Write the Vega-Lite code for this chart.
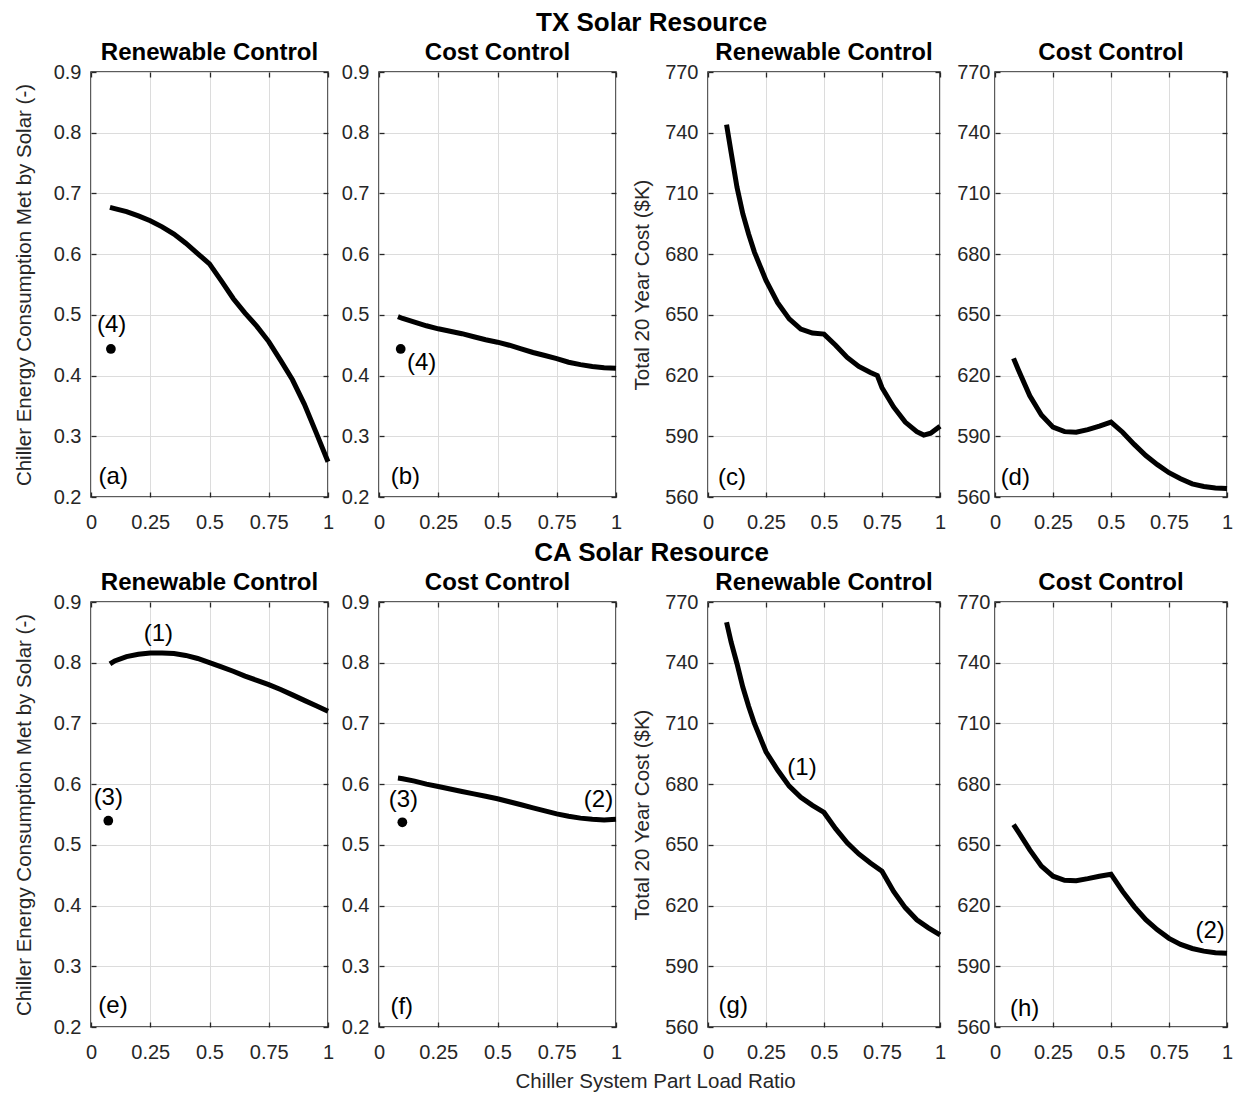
{
  "$schema": "https://vega.github.io/schema/vega-lite/v6.json",
  "background": "white",
  "padding": {"left": 13, "top": 10, "right": 4, "bottom": 0},
  "title": {"text": "Chiller System Part Load Ratio", "orient": "bottom", "anchor": "middle", "frame": "bounds", "fontSize": 20.5, "fontWeight": "normal", "color": "#262626", "offset": 9, "dx": 30},
  "spacing": 7,
  "datasets": {
    "curves": [
      {"panel":"a","plr":0.08,"val":0.677},{"panel":"a","plr":0.1,"val":0.675},{"panel":"a","plr":0.15,"val":0.670},{"panel":"a","plr":0.2,"val":0.663},{"panel":"a","plr":0.25,"val":0.655},{"panel":"a","plr":0.3,"val":0.645},{"panel":"a","plr":0.35,"val":0.633},{"panel":"a","plr":0.4,"val":0.618},{"panel":"a","plr":0.45,"val":0.601},{"panel":"a","plr":0.5,"val":0.584},{"panel":"a","plr":0.55,"val":0.556},{"panel":"a","plr":0.6,"val":0.527},{"panel":"a","plr":0.65,"val":0.503},{"panel":"a","plr":0.7,"val":0.481},{"panel":"a","plr":0.75,"val":0.456},{"panel":"a","plr":0.8,"val":0.425},{"panel":"a","plr":0.85,"val":0.393},{"panel":"a","plr":0.9,"val":0.353},{"panel":"a","plr":0.95,"val":0.306},{"panel":"a","plr":1.0,"val":0.258},
      {"panel":"b","plr":0.08,"val":0.497},{"panel":"b","plr":0.1,"val":0.494},{"panel":"b","plr":0.15,"val":0.488},{"panel":"b","plr":0.2,"val":0.482},{"panel":"b","plr":0.25,"val":0.477},{"panel":"b","plr":0.3,"val":0.473},{"panel":"b","plr":0.35,"val":0.469},{"panel":"b","plr":0.4,"val":0.464},{"panel":"b","plr":0.45,"val":0.459},{"panel":"b","plr":0.5,"val":0.455},{"panel":"b","plr":0.55,"val":0.450},{"panel":"b","plr":0.6,"val":0.444},{"panel":"b","plr":0.65,"val":0.438},{"panel":"b","plr":0.7,"val":0.433},{"panel":"b","plr":0.75,"val":0.428},{"panel":"b","plr":0.8,"val":0.422},{"panel":"b","plr":0.85,"val":0.418},{"panel":"b","plr":0.9,"val":0.415},{"panel":"b","plr":0.95,"val":0.413},{"panel":"b","plr":1.0,"val":0.412},
      {"panel":"c","plr":0.08,"val":744},{"panel":"c","plr":0.1,"val":730},{"panel":"c","plr":0.125,"val":713},{"panel":"c","plr":0.15,"val":700},{"panel":"c","plr":0.175,"val":690},{"panel":"c","plr":0.2,"val":681},{"panel":"c","plr":0.25,"val":667},{"panel":"c","plr":0.3,"val":656},{"panel":"c","plr":0.35,"val":648},{"panel":"c","plr":0.4,"val":643},{"panel":"c","plr":0.45,"val":641},{"panel":"c","plr":0.5,"val":640.5},{"panel":"c","plr":0.55,"val":635},{"panel":"c","plr":0.6,"val":629},{"panel":"c","plr":0.65,"val":624.5},{"panel":"c","plr":0.7,"val":621.5},{"panel":"c","plr":0.73,"val":620},{"panel":"c","plr":0.75,"val":614},{"panel":"c","plr":0.8,"val":604.5},{"panel":"c","plr":0.85,"val":597},{"panel":"c","plr":0.9,"val":592.3},{"panel":"c","plr":0.93,"val":590.6},{"panel":"c","plr":0.96,"val":591.5},{"panel":"c","plr":1.0,"val":595},
      {"panel":"d","plr":0.08,"val":628.5},{"panel":"d","plr":0.1,"val":623},{"panel":"d","plr":0.15,"val":610},{"panel":"d","plr":0.2,"val":600.5},{"panel":"d","plr":0.25,"val":594.5},{"panel":"d","plr":0.3,"val":592.3},{"panel":"d","plr":0.35,"val":592},{"panel":"d","plr":0.4,"val":593.3},{"panel":"d","plr":0.45,"val":595},{"panel":"d","plr":0.5,"val":597},{"panel":"d","plr":0.55,"val":592},{"panel":"d","plr":0.6,"val":586},{"panel":"d","plr":0.65,"val":580.5},{"panel":"d","plr":0.7,"val":576},{"panel":"d","plr":0.75,"val":572},{"panel":"d","plr":0.8,"val":569},{"panel":"d","plr":0.85,"val":566.5},{"panel":"d","plr":0.9,"val":565.2},{"panel":"d","plr":0.95,"val":564.5},{"panel":"d","plr":1.0,"val":564.2},
      {"panel":"e","plr":0.08,"val":0.798},{"panel":"e","plr":0.1,"val":0.803},{"panel":"e","plr":0.15,"val":0.810},{"panel":"e","plr":0.2,"val":0.814},{"panel":"e","plr":0.25,"val":0.816},{"panel":"e","plr":0.3,"val":0.816},{"panel":"e","plr":0.35,"val":0.815},{"panel":"e","plr":0.4,"val":0.812},{"panel":"e","plr":0.45,"val":0.807},{"panel":"e","plr":0.5,"val":0.800},{"panel":"e","plr":0.55,"val":0.793},{"panel":"e","plr":0.6,"val":0.786},{"panel":"e","plr":0.65,"val":0.778},{"panel":"e","plr":0.7,"val":0.771},{"panel":"e","plr":0.75,"val":0.764},{"panel":"e","plr":0.8,"val":0.756},{"panel":"e","plr":0.85,"val":0.747},{"panel":"e","plr":0.9,"val":0.738},{"panel":"e","plr":0.95,"val":0.729},{"panel":"e","plr":1.0,"val":0.720},
      {"panel":"f","plr":0.08,"val":0.610},{"panel":"f","plr":0.1,"val":0.609},{"panel":"f","plr":0.15,"val":0.605},{"panel":"f","plr":0.2,"val":0.600},{"panel":"f","plr":0.25,"val":0.596},{"panel":"f","plr":0.3,"val":0.592},{"panel":"f","plr":0.35,"val":0.588},{"panel":"f","plr":0.4,"val":0.584},{"panel":"f","plr":0.45,"val":0.580},{"panel":"f","plr":0.5,"val":0.576},{"panel":"f","plr":0.55,"val":0.571},{"panel":"f","plr":0.6,"val":0.566},{"panel":"f","plr":0.65,"val":0.561},{"panel":"f","plr":0.7,"val":0.556},{"panel":"f","plr":0.75,"val":0.551},{"panel":"f","plr":0.8,"val":0.547},{"panel":"f","plr":0.85,"val":0.544},{"panel":"f","plr":0.9,"val":0.542},{"panel":"f","plr":0.95,"val":0.541},{"panel":"f","plr":1.0,"val":0.542},
      {"panel":"g","plr":0.08,"val":760},{"panel":"g","plr":0.1,"val":750},{"panel":"g","plr":0.125,"val":739.5},{"panel":"g","plr":0.15,"val":728},{"panel":"g","plr":0.175,"val":718.5},{"panel":"g","plr":0.2,"val":710},{"panel":"g","plr":0.25,"val":696},{"panel":"g","plr":0.3,"val":687},{"panel":"g","plr":0.35,"val":679},{"panel":"g","plr":0.4,"val":673.5},{"panel":"g","plr":0.45,"val":669.5},{"panel":"g","plr":0.5,"val":666},{"panel":"g","plr":0.55,"val":658},{"panel":"g","plr":0.6,"val":651},{"panel":"g","plr":0.65,"val":645.5},{"panel":"g","plr":0.7,"val":641},{"panel":"g","plr":0.75,"val":637},{"panel":"g","plr":0.8,"val":627},{"panel":"g","plr":0.85,"val":619},{"panel":"g","plr":0.9,"val":613},{"panel":"g","plr":0.95,"val":609},{"panel":"g","plr":1.0,"val":605.5},
      {"panel":"h","plr":0.08,"val":660},{"panel":"h","plr":0.1,"val":656.5},{"panel":"h","plr":0.15,"val":647.5},{"panel":"h","plr":0.2,"val":639.5},{"panel":"h","plr":0.25,"val":634.5},{"panel":"h","plr":0.3,"val":632.5},{"panel":"h","plr":0.35,"val":632.3},{"panel":"h","plr":0.4,"val":633.3},{"panel":"h","plr":0.45,"val":634.5},{"panel":"h","plr":0.5,"val":635.5},{"panel":"h","plr":0.55,"val":627},{"panel":"h","plr":0.6,"val":619.5},{"panel":"h","plr":0.65,"val":613},{"panel":"h","plr":0.7,"val":608},{"panel":"h","plr":0.75,"val":603.8},{"panel":"h","plr":0.8,"val":600.8},{"panel":"h","plr":0.85,"val":598.8},{"panel":"h","plr":0.9,"val":597.5},{"panel":"h","plr":0.95,"val":596.7},{"panel":"h","plr":1.0,"val":596.4}
    ],
    "notes": [
      {"panel":"a","plr":0.094,"val":0.2334,"label":"(a)"},
      {"panel":"a","plr":0.087,"val":0.4833,"label":"(4)"},
      {"panel":"b","plr":0.111,"val":0.2334,"label":"(b)"},
      {"panel":"b","plr":0.18,"val":0.4215,"label":"(4)"},
      {"panel":"c","plr":0.1034,"val":569.2,"label":"(c)"},
      {"panel":"d","plr":0.0875,"val":569.2,"label":"(d)"},
      {"panel":"e","plr":0.093,"val":0.2346,"label":"(e)"},
      {"panel":"e","plr":0.284,"val":0.8473,"label":"(1)"},
      {"panel":"e","plr":0.073,"val":0.5769,"label":"(3)"},
      {"panel":"f","plr":0.096,"val":0.2325,"label":"(f)"},
      {"panel":"f","plr":0.1027,"val":0.5742,"label":"(3)"},
      {"panel":"f","plr":0.926,"val":0.5742,"label":"(2)"},
      {"panel":"g","plr":0.109,"val":570.2,"label":"(g)"},
      {"panel":"g","plr":0.405,"val":687.9,"label":"(1)"},
      {"panel":"h","plr":0.128,"val":568.9,"label":"(h)"},
      {"panel":"h","plr":0.927,"val":607.2,"label":"(2)"}
    ],
    "dots": [
      {"panel":"a","plr":0.084,"val":0.4438},
      {"panel":"b","plr":0.0916,"val":0.4438},
      {"panel":"e","plr":0.073,"val":0.5398},
      {"panel":"f","plr":0.0985,"val":0.5372}
    ]
  },
  "vconcat": [
    {
      "title": {"text": "TX Solar Resource", "anchor": "middle", "frame": "bounds", "fontSize": 26, "fontWeight": "bold", "color": "black", "offset": 4, "dx": 26},
      "spacing": 4,
      "hconcat": [
        {
          "spacing": 1,
          "hconcat": [
            {
              "width": 237, "height": 425,
              "title": {"text": "Renewable Control", "fontSize": 24, "fontWeight": "bold", "color": "black", "offset": -3},
              "layer": [
                {"data": {"name": "curves"}, "transform": [{"filter": "datum.panel === 'a'"}],
                 "mark": {"type": "line", "color": "black", "strokeWidth": 5, "strokeCap": "butt"},
                 "encoding": {
                   "x": {"field": "plr", "type": "quantitative", "scale": {"domain": [0, 1], "nice": false, "zero": false}, "axis": {"orient": "bottom", "values": [0, 0.25, 0.5, 0.75, 1], "format": ".2~f", "title": null, "grid": true}},
                   "y": {"field": "val", "type": "quantitative", "scale": {"domain": [0.2, 0.9], "nice": false, "zero": false}, "axis": {"orient": "left", "values": [0.2, 0.3, 0.4, 0.5, 0.6, 0.7, 0.8, 0.9], "format": ".1f", "title": "Chiller Energy Consumption Met by Solar (-)", "titlePadding": 19, "grid": true}}
                 }},
                {"data": {"name": "notes"}, "transform": [{"filter": "datum.panel === 'a'"}],
                 "mark": {"type": "text", "fontSize": 24, "color": "black", "align": "center", "baseline": "middle"},
                 "encoding": {
                   "x": {"field": "plr", "type": "quantitative", "axis": {"orient": "top", "values": [0, 0.25, 0.5, 0.75, 1], "labels": false, "grid": false, "title": null}},
                   "y": {"field": "val", "type": "quantitative", "axis": {"orient": "right", "values": [0.2, 0.3, 0.4, 0.5, 0.6, 0.7, 0.8, 0.9], "labels": false, "grid": false, "title": null}},
                   "text": {"field": "label"}
                 }},
                {"data": {"name": "dots"}, "transform": [{"filter": "datum.panel === 'a'"}],
                 "mark": {"type": "circle", "size": 95, "color": "black", "opacity": 1},
                 "encoding": {
                   "x": {"field": "plr", "type": "quantitative", "axis": null},
                   "y": {"field": "val", "type": "quantitative", "axis": null}
                 }}
              ],
              "resolve": {"axis": {"x": "independent", "y": "independent"}}
            },
            {
              "width": 237, "height": 425,
              "title": {"text": "Cost Control", "fontSize": 24, "fontWeight": "bold", "color": "black", "offset": -3},
              "layer": [
                {"data": {"name": "curves"}, "transform": [{"filter": "datum.panel === 'b'"}],
                 "mark": {"type": "line", "color": "black", "strokeWidth": 5, "strokeCap": "butt"},
                 "encoding": {
                   "x": {"field": "plr", "type": "quantitative", "scale": {"domain": [0, 1], "nice": false, "zero": false}, "axis": {"orient": "bottom", "values": [0, 0.25, 0.5, 0.75, 1], "format": ".2~f", "title": null, "grid": true}},
                   "y": {"field": "val", "type": "quantitative", "scale": {"domain": [0.2, 0.9], "nice": false, "zero": false}, "axis": {"orient": "left", "values": [0.2, 0.3, 0.4, 0.5, 0.6, 0.7, 0.8, 0.9], "format": ".1f", "title": null, "grid": true}}
                 }},
                {"data": {"name": "notes"}, "transform": [{"filter": "datum.panel === 'b'"}],
                 "mark": {"type": "text", "fontSize": 24, "color": "black", "align": "center", "baseline": "middle"},
                 "encoding": {
                   "x": {"field": "plr", "type": "quantitative", "axis": {"orient": "top", "values": [0, 0.25, 0.5, 0.75, 1], "labels": false, "grid": false, "title": null}},
                   "y": {"field": "val", "type": "quantitative", "axis": {"orient": "right", "values": [0.2, 0.3, 0.4, 0.5, 0.6, 0.7, 0.8, 0.9], "labels": false, "grid": false, "title": null}},
                   "text": {"field": "label"}
                 }},
                {"data": {"name": "dots"}, "transform": [{"filter": "datum.panel === 'b'"}],
                 "mark": {"type": "circle", "size": 95, "color": "black", "opacity": 1},
                 "encoding": {
                   "x": {"field": "plr", "type": "quantitative", "axis": null},
                   "y": {"field": "val", "type": "quantitative", "axis": null}
                 }}
              ],
              "resolve": {"axis": {"x": "independent", "y": "independent"}}
            }
          ]
        },
        {
          "spacing": 4,
          "hconcat": [
            {
              "width": 232, "height": 425,
              "title": {"text": "Renewable Control", "fontSize": 24, "fontWeight": "bold", "color": "black", "offset": -3},
              "layer": [
                {"data": {"name": "curves"}, "transform": [{"filter": "datum.panel === 'c'"}],
                 "mark": {"type": "line", "color": "black", "strokeWidth": 5, "strokeCap": "butt"},
                 "encoding": {
                   "x": {"field": "plr", "type": "quantitative", "scale": {"domain": [0, 1], "nice": false, "zero": false}, "axis": {"orient": "bottom", "values": [0, 0.25, 0.5, 0.75, 1], "format": ".2~f", "title": null, "grid": true}},
                   "y": {"field": "val", "type": "quantitative", "scale": {"domain": [560, 770], "nice": false, "zero": false}, "axis": {"orient": "left", "values": [560, 590, 620, 650, 680, 710, 740, 770], "format": "d", "title": "Total 20 Year Cost ($K)", "titlePadding": 12, "grid": true}}
                 }},
                {"data": {"name": "notes"}, "transform": [{"filter": "datum.panel === 'c'"}],
                 "mark": {"type": "text", "fontSize": 24, "color": "black", "align": "center", "baseline": "middle"},
                 "encoding": {
                   "x": {"field": "plr", "type": "quantitative", "axis": {"orient": "top", "values": [0, 0.25, 0.5, 0.75, 1], "labels": false, "grid": false, "title": null}},
                   "y": {"field": "val", "type": "quantitative", "axis": {"orient": "right", "values": [560, 590, 620, 650, 680, 710, 740, 770], "labels": false, "grid": false, "title": null}},
                   "text": {"field": "label"}
                 }}
              ],
              "resolve": {"axis": {"x": "independent", "y": "independent"}}
            },
            {
              "width": 232, "height": 425,
              "title": {"text": "Cost Control", "fontSize": 24, "fontWeight": "bold", "color": "black", "offset": -3},
              "layer": [
                {"data": {"name": "curves"}, "transform": [{"filter": "datum.panel === 'd'"}],
                 "mark": {"type": "line", "color": "black", "strokeWidth": 5, "strokeCap": "butt"},
                 "encoding": {
                   "x": {"field": "plr", "type": "quantitative", "scale": {"domain": [0, 1], "nice": false, "zero": false}, "axis": {"orient": "bottom", "values": [0, 0.25, 0.5, 0.75, 1], "format": ".2~f", "title": null, "grid": true}},
                   "y": {"field": "val", "type": "quantitative", "scale": {"domain": [560, 770], "nice": false, "zero": false}, "axis": {"orient": "left", "values": [560, 590, 620, 650, 680, 710, 740, 770], "format": "d", "title": null, "labelPadding": 10, "grid": true}}
                 }},
                {"data": {"name": "notes"}, "transform": [{"filter": "datum.panel === 'd'"}],
                 "mark": {"type": "text", "fontSize": 24, "color": "black", "align": "center", "baseline": "middle"},
                 "encoding": {
                   "x": {"field": "plr", "type": "quantitative", "axis": {"orient": "top", "values": [0, 0.25, 0.5, 0.75, 1], "labels": false, "grid": false, "title": null}},
                   "y": {"field": "val", "type": "quantitative", "axis": {"orient": "right", "values": [560, 590, 620, 650, 680, 710, 740, 770], "labels": false, "grid": false, "title": null}},
                   "text": {"field": "label"}
                 }}
              ],
              "resolve": {"axis": {"x": "independent", "y": "independent"}}
            }
          ]
        }
      ]
    },
    {
      "title": {"text": "CA Solar Resource", "anchor": "middle", "frame": "bounds", "fontSize": 26, "fontWeight": "bold", "color": "black", "offset": 4, "dx": 26},
      "spacing": 4,
      "hconcat": [
        {
          "spacing": 1,
          "hconcat": [
            {
              "width": 237, "height": 425,
              "title": {"text": "Renewable Control", "fontSize": 24, "fontWeight": "bold", "color": "black", "offset": -3},
              "layer": [
                {"data": {"name": "curves"}, "transform": [{"filter": "datum.panel === 'e'"}],
                 "mark": {"type": "line", "color": "black", "strokeWidth": 5, "strokeCap": "butt"},
                 "encoding": {
                   "x": {"field": "plr", "type": "quantitative", "scale": {"domain": [0, 1], "nice": false, "zero": false}, "axis": {"orient": "bottom", "values": [0, 0.25, 0.5, 0.75, 1], "format": ".2~f", "title": null, "grid": true}},
                   "y": {"field": "val", "type": "quantitative", "scale": {"domain": [0.2, 0.9], "nice": false, "zero": false}, "axis": {"orient": "left", "values": [0.2, 0.3, 0.4, 0.5, 0.6, 0.7, 0.8, 0.9], "format": ".1f", "title": "Chiller Energy Consumption Met by Solar (-)", "titlePadding": 19, "grid": true}}
                 }},
                {"data": {"name": "notes"}, "transform": [{"filter": "datum.panel === 'e'"}],
                 "mark": {"type": "text", "fontSize": 24, "color": "black", "align": "center", "baseline": "middle"},
                 "encoding": {
                   "x": {"field": "plr", "type": "quantitative", "axis": {"orient": "top", "values": [0, 0.25, 0.5, 0.75, 1], "labels": false, "grid": false, "title": null}},
                   "y": {"field": "val", "type": "quantitative", "axis": {"orient": "right", "values": [0.2, 0.3, 0.4, 0.5, 0.6, 0.7, 0.8, 0.9], "labels": false, "grid": false, "title": null}},
                   "text": {"field": "label"}
                 }},
                {"data": {"name": "dots"}, "transform": [{"filter": "datum.panel === 'e'"}],
                 "mark": {"type": "circle", "size": 95, "color": "black", "opacity": 1},
                 "encoding": {
                   "x": {"field": "plr", "type": "quantitative", "axis": null},
                   "y": {"field": "val", "type": "quantitative", "axis": null}
                 }}
              ],
              "resolve": {"axis": {"x": "independent", "y": "independent"}}
            },
            {
              "width": 237, "height": 425,
              "title": {"text": "Cost Control", "fontSize": 24, "fontWeight": "bold", "color": "black", "offset": -3},
              "layer": [
                {"data": {"name": "curves"}, "transform": [{"filter": "datum.panel === 'f'"}],
                 "mark": {"type": "line", "color": "black", "strokeWidth": 5, "strokeCap": "butt"},
                 "encoding": {
                   "x": {"field": "plr", "type": "quantitative", "scale": {"domain": [0, 1], "nice": false, "zero": false}, "axis": {"orient": "bottom", "values": [0, 0.25, 0.5, 0.75, 1], "format": ".2~f", "title": null, "grid": true}},
                   "y": {"field": "val", "type": "quantitative", "scale": {"domain": [0.2, 0.9], "nice": false, "zero": false}, "axis": {"orient": "left", "values": [0.2, 0.3, 0.4, 0.5, 0.6, 0.7, 0.8, 0.9], "format": ".1f", "title": null, "grid": true}}
                 }},
                {"data": {"name": "notes"}, "transform": [{"filter": "datum.panel === 'f'"}],
                 "mark": {"type": "text", "fontSize": 24, "color": "black", "align": "center", "baseline": "middle"},
                 "encoding": {
                   "x": {"field": "plr", "type": "quantitative", "axis": {"orient": "top", "values": [0, 0.25, 0.5, 0.75, 1], "labels": false, "grid": false, "title": null}},
                   "y": {"field": "val", "type": "quantitative", "axis": {"orient": "right", "values": [0.2, 0.3, 0.4, 0.5, 0.6, 0.7, 0.8, 0.9], "labels": false, "grid": false, "title": null}},
                   "text": {"field": "label"}
                 }},
                {"data": {"name": "dots"}, "transform": [{"filter": "datum.panel === 'f'"}],
                 "mark": {"type": "circle", "size": 95, "color": "black", "opacity": 1},
                 "encoding": {
                   "x": {"field": "plr", "type": "quantitative", "axis": null},
                   "y": {"field": "val", "type": "quantitative", "axis": null}
                 }}
              ],
              "resolve": {"axis": {"x": "independent", "y": "independent"}}
            }
          ]
        },
        {
          "spacing": 4,
          "hconcat": [
            {
              "width": 232, "height": 425,
              "title": {"text": "Renewable Control", "fontSize": 24, "fontWeight": "bold", "color": "black", "offset": -3},
              "layer": [
                {"data": {"name": "curves"}, "transform": [{"filter": "datum.panel === 'g'"}],
                 "mark": {"type": "line", "color": "black", "strokeWidth": 5, "strokeCap": "butt"},
                 "encoding": {
                   "x": {"field": "plr", "type": "quantitative", "scale": {"domain": [0, 1], "nice": false, "zero": false}, "axis": {"orient": "bottom", "values": [0, 0.25, 0.5, 0.75, 1], "format": ".2~f", "title": null, "grid": true}},
                   "y": {"field": "val", "type": "quantitative", "scale": {"domain": [560, 770], "nice": false, "zero": false}, "axis": {"orient": "left", "values": [560, 590, 620, 650, 680, 710, 740, 770], "format": "d", "title": "Total 20 Year Cost ($K)", "titlePadding": 12, "grid": true}}
                 }},
                {"data": {"name": "notes"}, "transform": [{"filter": "datum.panel === 'g'"}],
                 "mark": {"type": "text", "fontSize": 24, "color": "black", "align": "center", "baseline": "middle"},
                 "encoding": {
                   "x": {"field": "plr", "type": "quantitative", "axis": {"orient": "top", "values": [0, 0.25, 0.5, 0.75, 1], "labels": false, "grid": false, "title": null}},
                   "y": {"field": "val", "type": "quantitative", "axis": {"orient": "right", "values": [560, 590, 620, 650, 680, 710, 740, 770], "labels": false, "grid": false, "title": null}},
                   "text": {"field": "label"}
                 }}
              ],
              "resolve": {"axis": {"x": "independent", "y": "independent"}}
            },
            {
              "width": 232, "height": 425,
              "title": {"text": "Cost Control", "fontSize": 24, "fontWeight": "bold", "color": "black", "offset": -3},
              "layer": [
                {"data": {"name": "curves"}, "transform": [{"filter": "datum.panel === 'h'"}],
                 "mark": {"type": "line", "color": "black", "strokeWidth": 5, "strokeCap": "butt"},
                 "encoding": {
                   "x": {"field": "plr", "type": "quantitative", "scale": {"domain": [0, 1], "nice": false, "zero": false}, "axis": {"orient": "bottom", "values": [0, 0.25, 0.5, 0.75, 1], "format": ".2~f", "title": null, "grid": true}},
                   "y": {"field": "val", "type": "quantitative", "scale": {"domain": [560, 770], "nice": false, "zero": false}, "axis": {"orient": "left", "values": [560, 590, 620, 650, 680, 710, 740, 770], "format": "d", "title": null, "labelPadding": 10, "grid": true}}
                 }},
                {"data": {"name": "notes"}, "transform": [{"filter": "datum.panel === 'h'"}],
                 "mark": {"type": "text", "fontSize": 24, "color": "black", "align": "center", "baseline": "middle"},
                 "encoding": {
                   "x": {"field": "plr", "type": "quantitative", "axis": {"orient": "top", "values": [0, 0.25, 0.5, 0.75, 1], "labels": false, "grid": false, "title": null}},
                   "y": {"field": "val", "type": "quantitative", "axis": {"orient": "right", "values": [560, 590, 620, 650, 680, 710, 740, 770], "labels": false, "grid": false, "title": null}},
                   "text": {"field": "label"}
                 }}
              ],
              "resolve": {"axis": {"x": "independent", "y": "independent"}}
            }
          ]
        }
      ]
    }
  ],
  "config": {
    "font": "Liberation Sans",
    "view": {"stroke": "#262626", "strokeWidth": 1.5},
    "text": {"font": "Liberation Sans"},
    "title": {"font": "Liberation Sans"},
    "axis": {
      "labelFont": "Liberation Sans", "labelFontSize": 20, "labelColor": "#262626",
      "titleFont": "Liberation Sans", "titleFontSize": 20.5, "titleFontWeight": "normal", "titleColor": "#262626", "titlePadding": 14,
      "tickColor": "#262626", "tickSize": -5, "tickWidth": 1.3, "domain": false,
      "gridColor": "#dcdcdc", "gridWidth": 1, "labelFlush": false, "labelOverlap": false
    },
    "axisX": {"labelPadding": 20},
    "axisY": {"labelPadding": 15}
  }
}
